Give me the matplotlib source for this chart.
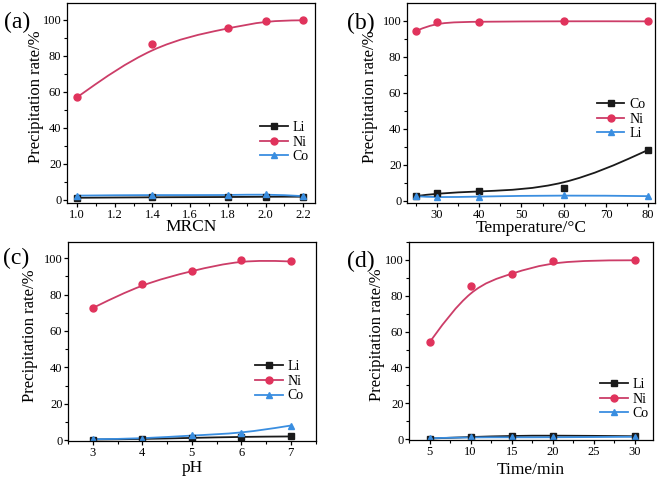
import numpy as np
import matplotlib
matplotlib.use("Agg")
import matplotlib.pyplot as plt
from matplotlib.path import Path
from matplotlib.patches import PathPatch
from matplotlib.ticker import AutoMinorLocator, MultipleLocator

plt.rcParams["font.family"] = ["Liberation Serif", "DejaVu Serif"]

# (a) MRCN
mrcn = [1.0, 1.4, 1.8, 2.0, 2.2]
a_li = [1.2, 1.5, 1.6, 1.8, 1.8]
a_ni = [57.0, 86.6, 95.3, 99.5, 99.8]
a_co = [2.4, 2.8, 2.6, 3.2, 2.1]

# (b) temperature
temp = [25, 30, 40, 60, 80]
b_co = [2.5, 4.0, 5.2, 7.0, 28.2]
b_ni = [94.2, 99.1, 99.4, 99.7, 99.6]
b_li = [2.5, 1.8, 2.3, 3.0, 2.5]

# (c) pH
ph = [3, 4, 5, 6, 7]
c_li = [0.3, 0.6, 1.2, 1.8, 2.0]
c_ni = [72.6, 85.9, 93.0, 99.1, 98.2]
c_co = [0.5, 0.8, 2.6, 3.7, 8.0]

# (d) time
time_min = [5, 10, 15, 20, 30]
d_li = [0.3, 1.2, 1.8, 2.0, 1.6]
d_ni = [54.0, 85.2, 92.2, 99.6, 99.8]
d_co = [0.5, 1.0, 1.0, 1.0, 1.3]

BLACK = "#1a1a1a"
RED = "#e0335c"
RED_LINE = "#cc3d68"
BLUE = "#3a8ee0"


def bspline_path(x, y):
    # cubic B-spline with data points as control points (clamped ends)
    P = np.column_stack([x, y]).astype(float)
    P = np.vstack([P[:1], P[:1], P, P[-1:], P[-1:]])
    verts, codes = [], []
    for i in range(1, len(P) - 2):
        a, b, c, d = P[i - 1], P[i], P[i + 1], P[i + 2]
        if not verts:
            verts.append((a + 4 * b + c) / 6)
            codes.append(Path.MOVETO)
        verts += [(2 * b + c) / 3, (b + 2 * c) / 3, (b + 4 * c + d) / 6]
        codes += [Path.CURVE4] * 3
    return Path(verts, codes)


def draw(ax, x, y, color, lcolor, marker, ms, label):
    ax.add_patch(PathPatch(bspline_path(x, y), fill=False, edgecolor=lcolor, lw=1.3))
    ax.plot(x, y, linestyle="none", marker=marker, color=color, ms=ms)
    ax.plot([], [], color=lcolor, lw=1.3, marker=marker, mfc=color, mec=color, ms=ms, label=label)


fig = plt.figure(figsize=(6.59, 4.79), dpi=100)
W, H = 659, 479
boxes = [(67, 3, 315, 203), (407, 3, 655, 203), (68, 242, 316, 441), (409, 242, 653, 440)]
axes = [fig.add_axes([l / W, 1 - b / H, (r - l) / W, (b - t) / H]) for l, t, r, b in boxes]

panels = [
    (mrcn, [(a_li, BLACK, BLACK, "s", 4, "Li"), (a_ni, RED, RED_LINE, "o", 5, "Ni"), (a_co, BLUE, BLUE, "^", 5, "Co")],
     "MRCN", (0.947, 2.262), (-1.7, 109.4), 0.2, "(a)"),
    (temp, [(b_co, BLACK, BLACK, "s", 4, "Co"), (b_ni, RED, RED_LINE, "o", 5, "Ni"), (b_li, BLUE, BLUE, "^", 5, "Li")],
     "Temperature/°C", (22.9, 81.6), (-1.3, 109.8), 10, "(b)"),
    (ph, [(c_li, BLACK, BLACK, "s", 4, "Li"), (c_ni, RED, RED_LINE, "o", 5, "Ni"), (c_co, BLUE, BLUE, "^", 5, "Co")],
     "pH", (2.5, 7.51), (-0.5, 108.9), 1, "(c)"),
    (time_min, [(d_li, BLACK, BLACK, "s", 4, "Li"), (d_ni, RED, RED_LINE, "o", 5, "Ni"), (d_co, BLUE, BLUE, "^", 5, "Co")],
     "Time/min", (2.5, 32.2), (-0.5, 110), 5, "(d)"),
]

# per panel: tag position, legend anchor, xlabel y, ylabel x
tag_pos = [(-0.254, 0.905), (-0.242, 0.90), (-0.262, 0.915), (-0.254, 0.90)]
leg_pos = [(0.778, 0.305), (0.765, 0.42), (0.754, 0.30), (0.783, 0.207)]
xlab_y = [-0.122, -0.125, -0.135, -0.15]
ylab_x = [-0.123, -0.149, -0.155, -0.131]

for k, (ax, (x, series, xlabel, xlim, ylim, xstep, tag)) in enumerate(zip(axes, panels)):
    for y, c, lc, m, ms, lab in series:
        draw(ax, x, y, c, lc, m, ms, lab)
    ax.set_xlim(*xlim)
    ax.set_ylim(*ylim)
    ax.xaxis.set_major_locator(MultipleLocator(xstep))
    ax.yaxis.set_major_locator(MultipleLocator(20))
    ax.xaxis.set_minor_locator(AutoMinorLocator(2))
    ax.yaxis.set_minor_locator(AutoMinorLocator(2))
    if tag == "(a)":
        ax.xaxis.set_major_formatter(plt.FormatStrFormatter("%.1f"))
    ax.tick_params(which="major", direction="out", length=3, width=0.9, labelsize=9, pad=1)
    ax.tick_params(which="minor", direction="out", length=2, width=0.8)
    for s in ax.spines.values():
        s.set_linewidth(0.9)
    ax.set_xlabel(xlabel, fontsize=12.5, va="center")
    ax.xaxis.set_label_coords(0.5, xlab_y[k])
    ax.set_ylabel("Precipitation rate/%", fontsize=12, va="center")
    ax.yaxis.set_label_coords(ylab_x[k], 0.53)
    ax.text(tag_pos[k][0], tag_pos[k][1], tag, transform=ax.transAxes, fontsize=17, ha="left", va="center")
    ax.legend(loc="center left", bbox_to_anchor=leg_pos[k], frameon=False, fontsize=10,
              handlelength=2.0, handletextpad=0.35, labelspacing=0.12, borderpad=0, borderaxespad=0)

fig.savefig("out.png", dpi=100)
